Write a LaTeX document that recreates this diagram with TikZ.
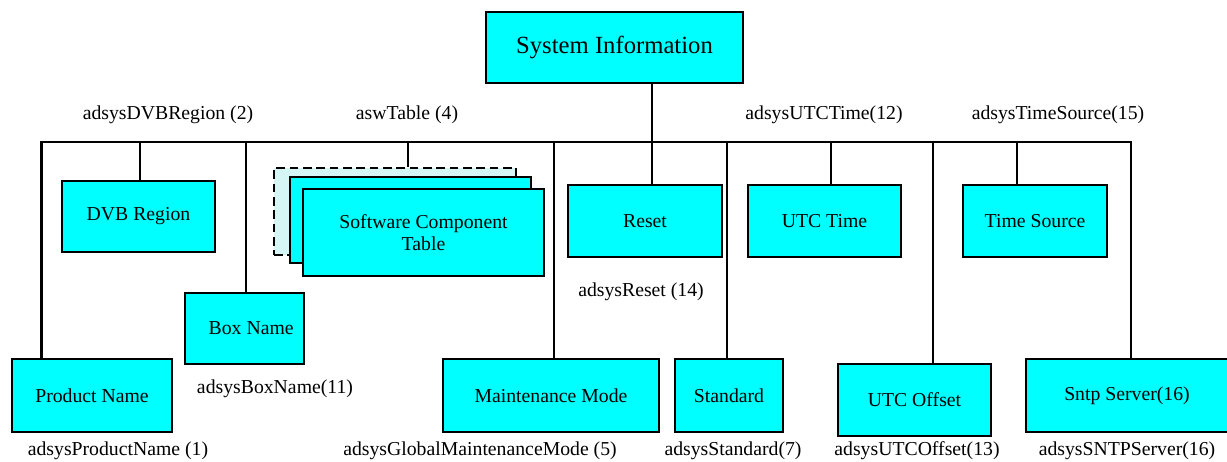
\documentclass[tikz,border=0pt]{standalone}
\usepackage{fontspec}
\setmainfont{Liberation Serif}
\definecolor{aqua}{RGB}{0,255,255}
\definecolor{paleaqua}{RGB}{214,246,246}
\begin{document}
\begin{tikzpicture}[x=0.75pt,y=-0.75pt,
  every node/.style={font=\fontsize{14.8}{17}\selectfont},
  sz/.style 2 args={minimum width=#1*0.75pt, minimum height=#2*0.75pt},
  blk/.style={draw=black, line width=1.9pt, fill=aqua, inner sep=0pt, align=center},
  backblk/.style={draw=black, line width=2.1pt, fill=paleaqua, dash pattern=on 6.5pt off 3.5pt, inner sep=0pt},
  wire/.style={line width=1.7pt, black},
  lbl/.style={inner sep=0pt}]
\useasboundingbox (0,0) rectangle (1227,461);

% root
\node[blk, sz={257}{71}, font=\fontsize{18.5}{22}\selectfont] (sys) at (614.5,47.5) {System Information};

% upper row
\node[blk, sz={153}{71}] (dvb) at (138.5,216.5) {DVB Region};
\node[backblk, sz={242}{87}] (swcback) at (395,211.5) {};
\node[blk, sz={241}{86}] (swcmid) at (410.5,220) {};
\node[blk, sz={241}{87}] (swc) at (423.5,232.5) {Software Component\\Table};
\node[blk, sz={154}{72}] (reset) at (645,221) {Reset};
\node[blk, sz={153}{72}] (utct) at (824.5,221) {UTC Time};
\node[blk, sz={144}{72}] (tsrc) at (1035,221) {Time Source};

% middle
\node[blk, sz={119}{71}] (boxn) at (244.5,328.5) {\hspace*{10pt}Box Name};

% lower row
\node[blk, sz={160}{73}] (prod) at (92,395.5) {Product Name};
\node[blk, sz={216}{73}] (maint) at (551,395.5) {Maintenance Mode};
\node[blk, sz={108}{73}] (std) at (729,395.5) {Standard};
\node[blk, sz={153}{72}] (utco) at (914.5,400) {UTC Offset};
\node[blk, sz={202}{73}] (sntp) at (1127,395.5) {Sntp Server(16)};

% bus and its taps
\coordinate (busL) at (41.5,142);
\coordinate (busR) at (1131,142);
\coordinate (tdvb) at (140,142);
\coordinate (tboxn) at (246,142);
\coordinate (tswc) at (408,142);
\coordinate (tmaint) at (554,142);
\coordinate (troot) at (652,142);
\coordinate (tstd) at (727,142);
\coordinate (tutct) at (831,142);
\coordinate (tutco) at (933,142);
\coordinate (ttsrc) at (1017,142);

% bus with the two outer drops as one path
\draw[wire] (busL |- prod.north) -- (busL) -- (busR) -- (busR |- sntp.north);
\draw[wire] (troot |- sys.south) -- (troot |- reset.north);
\draw[wire] (tdvb) -- (tdvb |- dvb.north);
\draw[wire] (tboxn) -- (tboxn |- boxn.north);
\draw[wire] (tswc) -- (tswc |- swcback.north);
\draw[wire] (tmaint) -- (tmaint |- maint.north);
\draw[wire] (tstd) -- (tstd |- std.north);
\draw[wire] (tutct) -- (tutct |- utct.north);
\draw[wire] (tutco) -- (tutco |- utco.north);
\draw[wire] (ttsrc) -- (ttsrc |- tsrc.north);

% object names
\node[lbl] (l2) at (168,115) {adsysDVBRegion (2)};
\node[lbl] (l4) at (407,115) {aswTable (4)};
\node[lbl] (l12) at (824,115) {adsysUTCTime(12)};
\node[lbl] (l15) at (1058,115) {adsysTimeSource(15)};
\node[lbl] (l14) at (641,292) {adsysReset (14)};
\node[lbl] (l11) at (275,389) {adsysBoxName(11)};
\node[lbl] (l1) at (118,451) {adsysProductName (1)};
\node[lbl] (l5) at (480,451) {adsysGlobalMaintenanceMode (5)};
\node[lbl] (l7) at (733,451) {adsysStandard(7)};
\node[lbl] (l13) at (917,451) {adsysUTCOffset(13)};
\node[lbl] (l16) at (1127,451) {adsysSNTPServer(16)};
\end{tikzpicture}
\end{document}
